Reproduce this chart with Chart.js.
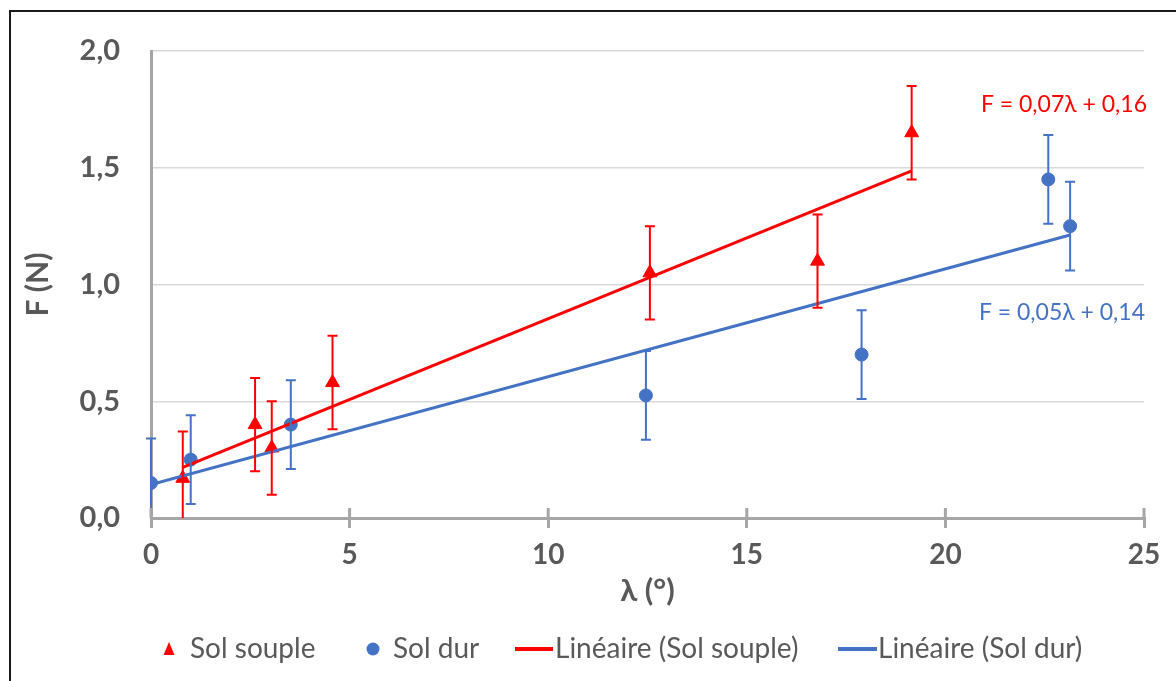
<!DOCTYPE html>
<html>
<head>
<meta charset="utf-8">
<script src="https://cdn.jsdelivr.net/npm/chart.js@4"></script>
<style>
  html, body { margin: 0; padding: 0; background: #fff; }
  canvas { display: block; }
</style>
</head>
<body>
<canvas id="graph" width="1176" height="681"></canvas>
<script>
// data
let soupleX = [0.8, 2.62, 3.04, 4.57, 12.56, 16.78, 19.15];
let soupleY = [0.17, 0.40, 0.30, 0.58, 1.05, 1.10, 1.65];
let soupleErr = [0.2, 0.2, 0.2, 0.2, 0.2, 0.2, 0.2];

let durX = [0, 1.0, 3.52, 12.46, 17.89, 22.59, 23.14];
let durY = [0.15, 0.25, 0.40, 0.525, 0.70, 1.45, 1.25];
let durErr = [0.19, 0.19, 0.19, 0.19, 0.19, 0.19, 0.19];

let xTicks = [0, 5, 10, 15, 20, 25];
let yTicks = [0, 0.5, 1.0, 1.5, 2.0];

let legendLabels = ['Sol souple', 'Sol dur', 'Linéaire (Sol souple)', 'Linéaire (Sol dur)'];
let eqSouple = 'F = 0,07λ + 0,16';
let eqDur = 'F = 0,05λ + 0,14';

const RED = '#ff0000';
const BLUE = '#4472c4';
const GREY_TEXT = '#595959';
const AXIS = '#a6a6a6';
const FONT = 'Lato, "Noto Sans", sans-serif';

function points(xs, ys) {
    let ans = [];
    for (let i = 0; i < xs.length; i++) ans.push({x: xs[i], y: ys[i]});
    return ans;
}

// least squares trend line (same thing Excel does), drawn from min x to max x
function trend(xs, ys) {
    let n = xs.length, mx = 0, my = 0;
    for (let i = 0; i < n; i++) { mx += xs[i]; my += ys[i]; }
    mx /= n; my /= n;
    let sxy = 0, sxx = 0;
    for (let i = 0; i < n; i++) {
        sxy += (xs[i] - mx) * (ys[i] - my);
        sxx += (xs[i] - mx) * (xs[i] - mx);
    }
    let a = sxy / sxx, b = my - a * mx;
    let x0 = Math.min(...xs), x1 = Math.max(...xs);
    return [{x: x0, y: a * x0 + b}, {x: x1, y: a * x1 + b}];
}

// vertical error bars, outer frame, inner axis ticks, equations and legend
const extras = {
    id: 'extras',
    beforeDraw(chart) {
        const ctx = chart.ctx;
        ctx.save();
        ctx.strokeStyle = '#1a1a1a';
        ctx.lineWidth = 2;
        ctx.strokeRect(10, 11, 1300, 800);
        ctx.restore();
    },
    afterDatasetsDraw(chart) {
        const ctx = chart.ctx, xs = chart.scales.x, ys = chart.scales.y, area = chart.chartArea;
        ctx.save();
        ctx.beginPath();
        ctx.rect(area.left - 10, area.top - 20, area.right - area.left + 20, area.bottom - area.top + 20);
        ctx.clip();
        const bars = [[soupleX, soupleY, soupleErr, RED], [durX, durY, durErr, BLUE]];
        bars.forEach(function (b) {
            ctx.strokeStyle = b[3];
            ctx.lineWidth = 2;
            for (let i = 0; i < b[0].length; i++) {
                let px = xs.getPixelForValue(b[0][i]);
                let top = ys.getPixelForValue(b[1][i] + b[2][i]);
                let bot = ys.getPixelForValue(b[1][i] - b[2][i]);
                ctx.beginPath();
                ctx.moveTo(px, top); ctx.lineTo(px, bot);
                ctx.moveTo(px - 5, top); ctx.lineTo(px + 5, top);
                if (bot < area.bottom) { ctx.moveTo(px - 5, bot); ctx.lineTo(px + 5, bot); }
                ctx.stroke();
            }
        });
        ctx.restore();
    },
    afterDraw(chart) {
        const ctx = chart.ctx, xs = chart.scales.x, ys = chart.scales.y;
        ctx.save();
        // tick marks cross the x axis in the reference
        ctx.strokeStyle = AXIS;
        ctx.lineWidth = 3;
        xTicks.forEach(function (t) {
            let px = xs.getPixelForValue(t);
            ctx.beginPath();
            ctx.moveTo(px, ys.bottom - 10);
            ctx.lineTo(px, ys.bottom);
            ctx.stroke();
        });

        // trend line equations
        ctx.font = '23px ' + FONT;
        ctx.textAlign = 'right';
        ctx.textBaseline = 'middle';
        ctx.fillStyle = RED;
        ctx.fillText(eqSouple, xs.getPixelForValue(25) + 3, ys.getPixelForValue(1.77));
        ctx.fillStyle = BLUE;
        ctx.fillText(eqDur, xs.getPixelForValue(25) + 1, ys.getPixelForValue(0.88));

        // legend
        const ly = 649;
        ctx.font = '28px ' + FONT;
        ctx.textAlign = 'left';
        ctx.fillStyle = RED;
        ctx.beginPath();
        ctx.moveTo(169, ly - 7); ctx.lineTo(174.5, ly + 6); ctx.lineTo(163.5, ly + 6);
        ctx.closePath(); ctx.fill();
        ctx.fillStyle = BLUE;
        ctx.beginPath(); ctx.arc(373, ly, 6.5, 0, Math.PI * 2); ctx.fill();
        ctx.lineWidth = 4;
        ctx.strokeStyle = RED;
        ctx.beginPath(); ctx.moveTo(515, ly); ctx.lineTo(553, ly); ctx.stroke();
        ctx.strokeStyle = BLUE;
        ctx.beginPath(); ctx.moveTo(838, ly); ctx.lineTo(877, ly); ctx.stroke();
        ctx.fillStyle = GREY_TEXT;
        ctx.fillText(legendLabels[0], 190, ly);
        ctx.fillText(legendLabels[1], 393, ly);
        ctx.fillText(legendLabels[2], 555, ly);
        ctx.fillText(legendLabels[3], 878, ly);
        ctx.restore();
    }
};

let graph = document.getElementById('graph').getContext('2d');
window.main_chart = new Chart(graph, {
    type: 'scatter',
    data: {
        datasets: [{
            label: legendLabels[0],
            data: points(soupleX, soupleY),
            pointStyle: 'triangle',
            pointRadius: 8,
            backgroundColor: RED,
            borderColor: RED,
            borderWidth: 1,
            order: 1
        }, {
            label: legendLabels[1],
            data: points(durX, durY),
            pointStyle: 'circle',
            pointRadius: 6.5,
            backgroundColor: BLUE,
            borderColor: BLUE,
            borderWidth: 1,
            order: 2
        }, {
            type: 'line',
            label: legendLabels[2],
            data: trend(soupleX, soupleY),
            borderColor: RED,
            borderWidth: 3,
            pointRadius: 0,
            fill: false,
            order: 0
        }, {
            type: 'line',
            label: legendLabels[3],
            data: trend(durX, durY),
            borderColor: BLUE,
            borderWidth: 3,
            pointRadius: 0,
            fill: false,
            order: 0
        }]
    },
    options: {
        responsive: false,
        animation: false,
        layout: { padding: { left: 20, top: 51, right: 32, bottom: 71 } },
        plugins: {
            legend: { display: false },
            tooltip: { enabled: false }
        },
        scales: {
            x: {
                type: 'linear',
                min: 0, max: 25,
                afterFit: function (s) { s.height = 92; },
                afterBuildTicks: function (s) { s.ticks = xTicks.map(function (v) { return {value: v}; }); },
                grid: { drawOnChartArea: false, drawTicks: true, tickLength: 10, color: AXIS, lineWidth: 3 },
                border: { color: AXIS, width: 3 },
                ticks: {
                    color: GREY_TEXT,
                    padding: 10,
                    font: { family: FONT, size: 28, weight: 'bold' }
                },
                title: {
                    display: true,
                    text: 'λ (°)',
                    color: GREY_TEXT,
                    padding: 0,
                    font: { family: FONT, size: 31, weight: 'bold' }
                }
            },
            y: {
                type: 'linear',
                min: 0, max: 2,
                afterFit: function (s) { s.width = 131; },
                afterBuildTicks: function (s) { s.ticks = yTicks.map(function (v) { return {value: v}; }); },
                grid: { color: '#d9d9d9', lineWidth: 1.5, drawTicks: false },
                border: { color: AXIS, width: 3 },
                ticks: {
                    color: GREY_TEXT,
                    padding: 31,
                    font: { family: FONT, size: 29, weight: 'bold' },
                    callback: function (v) { return v.toFixed(1).replace('.', ','); }
                },
                title: {
                    display: true,
                    text: 'F (N)',
                    color: GREY_TEXT,
                    padding: 0,
                    font: { family: FONT, size: 30, weight: 'bold' }
                }
            }
        }
    },
    plugins: [extras]
});
</script>
</body>
</html>
